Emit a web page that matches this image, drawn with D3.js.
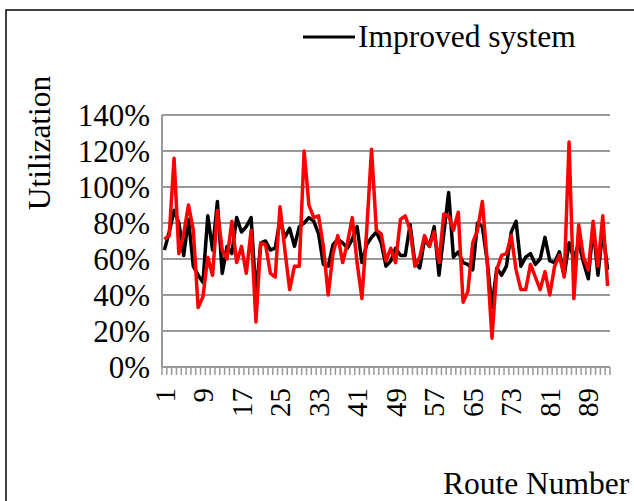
<!DOCTYPE html>
<html><head><meta charset="utf-8">
<script src="https://cdn.jsdelivr.net/npm/d3@7"></script>
<style>body{margin:0;background:#fff}svg{display:block}text{font-family:"Liberation Serif","Times New Roman",serif;fill:#000}</style>
</head><body><svg id="c" width="634" height="501"></svg>
<script>
const improved = [65,75,87,80,62,82,56,51,47,84,65,92,52,67,63,83,75,78,83,40,69,70,65,66,82,72,77,67,78,80,83,81,74,57,56,68,71,69,66,71,78,58,68,72,75,69,56,59,66,62,62,79,58,55,71,67,78,51,74,97,61,64,58,57,54,80,78,59,33,55,51,56,75,81,56,61,63,57,60,72,59,58,64,51,69,60,69,58,49,78,51,76,54];
const current = [71,73,116,63,74,90,76,33,39,61,51,87,65,60,81,58,67,52,76,25,69,68,52,50,89,65,43,56,56,120,90,83,84,67,40,63,73,58,69,83,58,38,76,121,76,74,59,66,58,82,84,76,56,61,73,67,75,58,85,84,76,86,36,42,69,76,92,59,16,54,62,63,73,54,43,43,57,50,43,53,40,56,62,50,125,38,79,61,54,81,56,84,45];
const routes = improved.map((d,i)=>i+1);
const xTickLabels = [1,9,17,25,33,41,49,57,65,73,81,89];
const yTicks = [0,20,40,60,80,100,120,140];
const legendLabel = "Improved system";
const yTitle = "Utilization";
const xTitle = "Route Number";

const svg = d3.select("#c");
const L=162, R=610, T=115, B=367;
const x = d3.scaleBand().domain(routes).range([L,R]);
const y = d3.scaleLinear().domain([0,140]).range([B,T]);
const cx = r => x(r)+x.bandwidth()/2;

// border
svg.append("rect").attr("x",6).attr("y",10).attr("width",700).attr("height",600)
  .attr("fill","none").attr("stroke","#000").attr("stroke-width",1.5);

// gridlines
svg.append("g").selectAll("line").data(yTicks.filter(d=>d>0)).join("line")
  .attr("x1",L).attr("x2",R).attr("y1",d=>y(d)).attr("y2",d=>y(d))
  .attr("stroke","#999").attr("stroke-width",2);

// axes lines
svg.append("line").attr("x1",L).attr("x2",L).attr("y1",T).attr("y2",B).attr("stroke","#999").attr("stroke-width",2);
svg.append("line").attr("x1",L).attr("x2",R).attr("y1",B).attr("y2",B).attr("stroke","#999").attr("stroke-width",2);
// x tick marks at category boundaries
const bounds = routes.map(r=>x(r)).concat([R]);
svg.append("g").selectAll("line").data(bounds).join("line")
  .attr("x1",d=>d).attr("x2",d=>d).attr("y1",B).attr("y2",B+8)
  .attr("stroke","#999").attr("stroke-width",1.5);

// y labels
svg.append("g").selectAll("text").data(yTicks).join("text")
  .attr("x",150).attr("y",d=>y(d)).attr("dy","0.35em").attr("text-anchor","end")
  .style("font-size","31px").text(d=>d+"%");

// x labels rotated
svg.append("g").selectAll("text").data(xTickLabels).join("text")
  .attr("transform",d=>`translate(${cx(d)},388) rotate(-90)`)
  .attr("dy","0.35em").attr("text-anchor","end")
  .style("font-size","29px").text(d=>d);

// lines
const line = d3.line().x((d,i)=>cx(routes[i])).y(d=>y(d));
svg.append("path").datum(improved).attr("d",line).attr("fill","none").attr("stroke","#000").attr("stroke-width",3.5).attr("stroke-linejoin","round");
svg.append("path").datum(current).attr("d",line).attr("fill","none").attr("stroke","#ff0000").attr("stroke-width",3.5).attr("stroke-linejoin","round");

// legend
svg.append("line").attr("x1",303).attr("x2",355).attr("y1",37).attr("y2",37).attr("stroke","#000").attr("stroke-width",3);
svg.append("text").attr("x",358).attr("y",47).style("font-size","31.5px").text(legendLabel);

// titles
svg.append("text").attr("transform","translate(50,143) rotate(-90)").attr("text-anchor","middle")
  .style("font-size","31.5px").text(yTitle);
svg.append("text").attr("x",443).attr("y",494).style("font-size","31.5px").text(xTitle);
</script></body></html>
